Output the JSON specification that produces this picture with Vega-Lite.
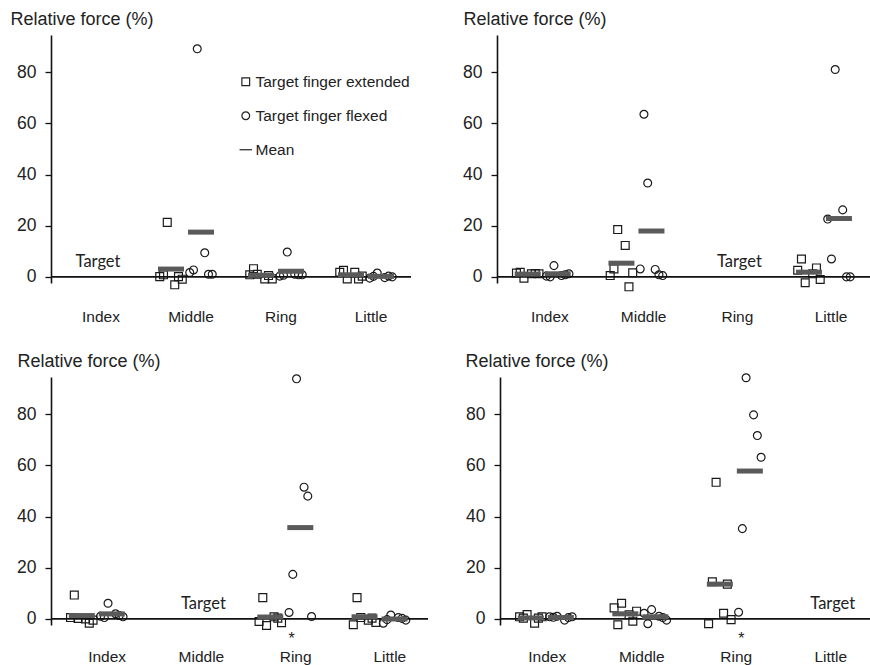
{
  "$schema": "https://vega.github.io/schema/vega-lite/v6.json",
  "padding": {"left": 10, "top": 10, "right": 0, "bottom": 0},
  "background": "white",
  "datasets": {
    "pts": [
      {"p":"A","f":"Middle","c":"ext","s":"e1","v":0.1},{"p":"A","f":"Middle","c":"ext","s":"e2","v":0.8},{"p":"A","f":"Middle","c":"ext","s":"e3","v":21.3},{"p":"A","f":"Middle","c":"ext","s":"e4","v":-3.1},{"p":"A","f":"Middle","c":"ext","s":"e5","v":0.1},{"p":"A","f":"Middle","c":"ext","s":"e6","v":-0.9},
      {"p":"A","f":"Middle","c":"flx","s":"f1","v":1.7},{"p":"A","f":"Middle","c":"flx","s":"f2","v":2.7},{"p":"A","f":"Middle","c":"flx","s":"f3","v":89.2},{"p":"A","f":"Middle","c":"flx","s":"f4","v":9.4},{"p":"A","f":"Middle","c":"flx","s":"f5","v":1.0},{"p":"A","f":"Middle","c":"flx","s":"f6","v":1.0},
      {"p":"A","f":"Ring","c":"ext","s":"e1","v":0.8},{"p":"A","f":"Ring","c":"ext","s":"e2","v":3.2},{"p":"A","f":"Ring","c":"ext","s":"e3","v":1.0},{"p":"A","f":"Ring","c":"ext","s":"e4","v":-0.8},{"p":"A","f":"Ring","c":"ext","s":"e5","v":0.5},{"p":"A","f":"Ring","c":"ext","s":"e6","v":-0.8},
      {"p":"A","f":"Ring","c":"flx","s":"f1","v":0.3},{"p":"A","f":"Ring","c":"flx","s":"f2","v":0.6},{"p":"A","f":"Ring","c":"flx","s":"f3","v":9.7},{"p":"A","f":"Ring","c":"flx","s":"f4","v":1.0},{"p":"A","f":"Ring","c":"flx","s":"f5","v":0.8},{"p":"A","f":"Ring","c":"flx","s":"f6","v":0.8},
      {"p":"A","f":"Little","c":"ext","s":"e1","v":1.8},{"p":"A","f":"Little","c":"ext","s":"e2","v":2.6},{"p":"A","f":"Little","c":"ext","s":"e3","v":-0.8},{"p":"A","f":"Little","c":"ext","s":"e4","v":1.8},{"p":"A","f":"Little","c":"ext","s":"e5","v":-0.8},{"p":"A","f":"Little","c":"ext","s":"e6","v":0.3},
      {"p":"A","f":"Little","c":"flx","s":"f1","v":-0.5},{"p":"A","f":"Little","c":"flx","s":"f2","v":0.2},{"p":"A","f":"Little","c":"flx","s":"f3","v":1.5},{"p":"A","f":"Little","c":"flx","s":"f4","v":-0.3},{"p":"A","f":"Little","c":"flx","s":"f5","v":0.3},{"p":"A","f":"Little","c":"flx","s":"f6","v":0.0},

      {"p":"B","f":"Index","c":"ext","s":"e1","v":1.5},{"p":"B","f":"Index","c":"ext","s":"e2","v":1.8},{"p":"B","f":"Index","c":"ext","s":"e3","v":-0.5},{"p":"B","f":"Index","c":"ext","s":"e4","v":1.2},{"p":"B","f":"Index","c":"ext","s":"e5","v":1.3},{"p":"B","f":"Index","c":"ext","s":"e6","v":1.2},
      {"p":"B","f":"Index","c":"flx","s":"f1","v":0.3},{"p":"B","f":"Index","c":"flx","s":"f2","v":0.0},{"p":"B","f":"Index","c":"flx","s":"f3","v":4.4},{"p":"B","f":"Index","c":"flx","s":"f4","v":0.5},{"p":"B","f":"Index","c":"flx","s":"f5","v":0.8},{"p":"B","f":"Index","c":"flx","s":"f6","v":1.2},
      {"p":"B","f":"Middle","c":"ext","s":"e1","v":0.5},{"p":"B","f":"Middle","c":"ext","s":"e2","v":3.1},{"p":"B","f":"Middle","c":"ext","s":"e3","v":18.5},{"p":"B","f":"Middle","c":"ext","s":"e4","v":12.3},{"p":"B","f":"Middle","c":"ext","s":"e5","v":-3.9},{"p":"B","f":"Middle","c":"ext","s":"e6","v":1.6},
      {"p":"B","f":"Middle","c":"flx","s":"f1","v":3.1},{"p":"B","f":"Middle","c":"flx","s":"f2","v":63.6},{"p":"B","f":"Middle","c":"flx","s":"f3","v":36.7},{"p":"B","f":"Middle","c":"flx","s":"f4","v":2.9},{"p":"B","f":"Middle","c":"flx","s":"f5","v":0.8},{"p":"B","f":"Middle","c":"flx","s":"f6","v":0.5},
      {"p":"B","f":"Little","c":"ext","s":"e1","v":2.6},{"p":"B","f":"Little","c":"ext","s":"e2","v":7.0},{"p":"B","f":"Little","c":"ext","s":"e3","v":-2.3},{"p":"B","f":"Little","c":"ext","s":"e4","v":1.2},{"p":"B","f":"Little","c":"ext","s":"e5","v":3.5},{"p":"B","f":"Little","c":"ext","s":"e6","v":-1.0},
      {"p":"B","f":"Little","c":"flx","s":"f1","v":22.6},{"p":"B","f":"Little","c":"flx","s":"f2","v":7.0},{"p":"B","f":"Little","c":"flx","s":"f3","v":81.1},{"p":"B","f":"Little","c":"flx","s":"f4","v":26.2},{"p":"B","f":"Little","c":"flx","s":"f5","v":0.0},{"p":"B","f":"Little","c":"flx","s":"f6","v":0.0},

      {"p":"C","f":"Index","c":"ext","s":"e1","v":0.5},{"p":"C","f":"Index","c":"ext","s":"e2","v":9.3},{"p":"C","f":"Index","c":"ext","s":"e3","v":0.2},{"p":"C","f":"Index","c":"ext","s":"e4","v":0.0},{"p":"C","f":"Index","c":"ext","s":"e5","v":-1.7},{"p":"C","f":"Index","c":"ext","s":"e6","v":-0.5},
      {"p":"C","f":"Index","c":"flx","s":"f1","v":1.0},{"p":"C","f":"Index","c":"flx","s":"f2","v":0.5},{"p":"C","f":"Index","c":"flx","s":"f3","v":6.1},{"p":"C","f":"Index","c":"flx","s":"f4","v":2.0},{"p":"C","f":"Index","c":"flx","s":"f5","v":1.3},{"p":"C","f":"Index","c":"flx","s":"f6","v":0.8},
      {"p":"C","f":"Ring","c":"ext","s":"e1","v":-1.0},{"p":"C","f":"Ring","c":"ext","s":"e2","v":8.3},{"p":"C","f":"Ring","c":"ext","s":"e3","v":-2.6},{"p":"C","f":"Ring","c":"ext","s":"e4","v":0.8},{"p":"C","f":"Ring","c":"ext","s":"e5","v":0.3},{"p":"C","f":"Ring","c":"ext","s":"e6","v":-1.5},
      {"p":"C","f":"Ring","c":"flx","s":"f1","v":2.5},{"p":"C","f":"Ring","c":"flx","s":"f2","v":17.4},{"p":"C","f":"Ring","c":"flx","s":"f3","v":93.9},{"p":"C","f":"Ring","c":"flx","s":"f4","v":51.5},{"p":"C","f":"Ring","c":"flx","s":"f5","v":48.0},{"p":"C","f":"Ring","c":"flx","s":"f6","v":0.9},
      {"p":"C","f":"Little","c":"ext","s":"e1","v":-2.3},{"p":"C","f":"Little","c":"ext","s":"e2","v":8.3},{"p":"C","f":"Little","c":"ext","s":"e3","v":0.5},{"p":"C","f":"Little","c":"ext","s":"e4","v":-0.5},{"p":"C","f":"Little","c":"ext","s":"e5","v":0.3},{"p":"C","f":"Little","c":"ext","s":"e6","v":-1.4},
      {"p":"C","f":"Little","c":"flx","s":"f1","v":-1.7},{"p":"C","f":"Little","c":"flx","s":"f2","v":-0.3},{"p":"C","f":"Little","c":"flx","s":"f3","v":1.5},{"p":"C","f":"Little","c":"flx","s":"f4","v":0.5},{"p":"C","f":"Little","c":"flx","s":"f5","v":0.2},{"p":"C","f":"Little","c":"flx","s":"f6","v":-0.5},

      {"p":"D","f":"Index","c":"ext","s":"e1","v":0.8},{"p":"D","f":"Index","c":"ext","s":"e2","v":0.3},{"p":"D","f":"Index","c":"ext","s":"e3","v":1.7},{"p":"D","f":"Index","c":"ext","s":"e4","v":-1.7},{"p":"D","f":"Index","c":"ext","s":"e5","v":0.3},{"p":"D","f":"Index","c":"ext","s":"e6","v":0.8},
      {"p":"D","f":"Index","c":"flx","s":"f1","v":0.8},{"p":"D","f":"Index","c":"flx","s":"f2","v":0.6},{"p":"D","f":"Index","c":"flx","s":"f3","v":1.0},{"p":"D","f":"Index","c":"flx","s":"f4","v":-0.5},{"p":"D","f":"Index","c":"flx","s":"f5","v":0.5},{"p":"D","f":"Index","c":"flx","s":"f6","v":0.8},
      {"p":"D","f":"Middle","c":"ext","s":"e1","v":4.3},{"p":"D","f":"Middle","c":"ext","s":"e2","v":-2.3},{"p":"D","f":"Middle","c":"ext","s":"e3","v":6.1},{"p":"D","f":"Middle","c":"ext","s":"e4","v":1.6},{"p":"D","f":"Middle","c":"ext","s":"e5","v":-0.9},{"p":"D","f":"Middle","c":"ext","s":"e6","v":3.0},
      {"p":"D","f":"Middle","c":"flx","s":"f1","v":2.2},{"p":"D","f":"Middle","c":"flx","s":"f2","v":-1.9},{"p":"D","f":"Middle","c":"flx","s":"f3","v":3.6},{"p":"D","f":"Middle","c":"flx","s":"f4","v":1.0},{"p":"D","f":"Middle","c":"flx","s":"f5","v":0.5},{"p":"D","f":"Middle","c":"flx","s":"f6","v":-0.5},
      {"p":"D","f":"Ring","c":"ext","s":"e1","v":-1.9},{"p":"D","f":"Ring","c":"ext","s":"e2","v":14.5},{"p":"D","f":"Ring","c":"ext","s":"e3","v":53.4},{"p":"D","f":"Ring","c":"ext","s":"e4","v":2.2},{"p":"D","f":"Ring","c":"ext","s":"e5","v":13.6},{"p":"D","f":"Ring","c":"ext","s":"e6","v":-0.3},
      {"p":"D","f":"Ring","c":"flx","s":"f1","v":2.6},{"p":"D","f":"Ring","c":"flx","s":"f2","v":35.3},{"p":"D","f":"Ring","c":"flx","s":"f3","v":94.3},{"p":"D","f":"Ring","c":"flx","s":"f4","v":79.8},{"p":"D","f":"Ring","c":"flx","s":"f5","v":71.7},{"p":"D","f":"Ring","c":"flx","s":"f6","v":63.2}
    ],
    "tg": [{"p":"A","f":"Index"},{"p":"B","f":"Ring"},{"p":"C","f":"Middle"},{"p":"D","f":"Little"}],
    "sig": [{"p":"C","f":"Ring"},{"p":"D","f":"Ring"}]
  },
  "config": {
    "view": {"stroke": null},
    "axis": {"labelFont": "Liberation Sans", "titleFont": "Liberation Sans", "labelColor": "#222", "titleColor": "#222", "grid": false},
    "axisX": {"domain": false, "ticks": false, "labelFontSize": 15.5, "labelAngle": 0, "labelPadding": 26},
    "axisY": {"domainColor": "#111", "domainWidth": 1.6, "tickColor": "#111", "tickWidth": 1.3, "tickSize": 6, "labelFontSize": 17.5, "labelPadding": 9, "titleAngle": 0, "titleAlign": "left", "titleBaseline": "alphabetic", "titleY": -11, "titleFontSize": 18, "titleFontWeight": "normal"},
    "point": {"filled": false, "size": 62, "strokeWidth": 1.2, "color": "#1a1a1a", "opacity": 1},
    "tick": {"thickness": 5, "size": 26, "color": "#5a5a5a", "opacity": 1}
  },
  "vconcat": [
    {
      "hconcat": [
        {
          "width": 360, "height": 248,
          "layer": [
            {
              "data": {"name": "pts"},
              "transform": [{"filter": "datum.p === 'A'"}],
              "mark": {"type": "point"},
              "encoding": {
                "x": {"field": "f", "type": "nominal", "scale": {"domain": ["Index","Middle","Ring","Little"], "paddingInner": 0.375, "paddingOuter": 0.1875}, "title": null, "axis": {"labelOffset": 5}},
                "xOffset": {"field": "s", "type": "nominal", "scale": {"domain": ["e1","e2","e3","ext","e4","e5","e6","gap","f1","f2","f3","flx","f4","f5","f6"], "paddingInner": 0, "paddingOuter": 0}},
                "y": {"field": "v", "type": "quantitative", "scale": {"domain": [-2.4, 94.6], "nice": false, "zero": false}, "title": "Relative force (%)", "axis": {"values": [0,20,40,60,80], "titleX": -41}},
                "shape": {"field": "c", "type": "nominal", "scale": {"domain": ["ext","flx","mean"], "range": ["square","circle","M-1.6,0L1.6,0"]},
                  "legend": {"orient": "none", "legendX": 187, "legendY": 39, "title": null, "padding": 0, "labelFontSize": 15.5, "labelColor": "#222", "labelFont": "Liberation Sans", "symbolSize": 60, "symbolStrokeWidth": 1.2, "symbolStrokeColor": "#222", "symbolFillColor": "transparent", "rowPadding": 17, "labelOffset": 2,
                    "labelExpr": "datum.label == 'ext' ? 'Target finger extended' : datum.label == 'flx' ? 'Target finger flexed' : 'Mean'"}}
              }
            },
            {"data": {"values": [{}]}, "mark": {"type": "rule", "color": "#111", "strokeWidth": 1.6}, "encoding": {"y": {"datum": 0, "scale": {"domain": [-2.4, 94.6], "nice": false, "zero": false}}}},
            {
              "data": {"name": "pts"},
              "transform": [{"filter": "datum.p === 'A'"}, {"aggregate": [{"op": "mean", "field": "v", "as": "m"}], "groupby": ["f","c"]}],
              "mark": {"type": "tick"},
              "encoding": {
                "x": {"field": "f", "type": "nominal", "title": null},
                "xOffset": {"field": "c", "type": "nominal"},
                "y": {"field": "m", "type": "quantitative", "title": "Relative force (%)"}
              }
            },
            {
              "data": {"name": "tg"},
              "transform": [{"filter": "datum.p === 'A'"}],
              "mark": {"type": "text", "font": "Lato", "fontSize": 16.5, "baseline": "alphabetic", "dy": -10, "dx": 2, "color": "#222"},
              "encoding": {"x": {"field": "f", "type": "nominal", "title": null}, "y": {"datum": 0}, "text": {"value": "Target"}}
            }
          ]
        },
        {
          "width": 375, "height": 248,
          "layer": [
            {
              "data": {"name": "pts"},
              "transform": [{"filter": "datum.p === 'B'"}],
              "mark": {"type": "point"},
              "encoding": {
                "x": {"field": "f", "type": "nominal", "scale": {"domain": ["Index","Middle","Ring","Little"], "paddingInner": 0.375, "paddingOuter": 0.1875}, "title": null, "axis": {"labelOffset": 6}},
                "xOffset": {"field": "s", "type": "nominal", "scale": {"domain": ["e1","e2","e3","ext","e4","e5","e6","gap","f1","f2","f3","flx","f4","f5","f6"], "paddingInner": 0, "paddingOuter": 0}},
                "y": {"field": "v", "type": "quantitative", "scale": {"domain": [-2.4, 94.6], "nice": false, "zero": false}, "title": "Relative force (%)", "axis": {"values": [0,20,40,60,80], "titleX": -34}},
                "shape": {"field": "c", "type": "nominal", "scale": {"domain": ["ext","flx","mean"], "range": ["square","circle","M-1.6,0L1.6,0"]}, "legend": null}
              }
            },
            {"data": {"values": [{}]}, "mark": {"type": "rule", "color": "#111", "strokeWidth": 1.6}, "encoding": {"y": {"datum": 0, "scale": {"domain": [-2.4, 94.6], "nice": false, "zero": false}}}},
            {
              "data": {"name": "pts"},
              "transform": [{"filter": "datum.p === 'B'"}, {"aggregate": [{"op": "mean", "field": "v", "as": "m"}], "groupby": ["f","c"]}],
              "mark": {"type": "tick"},
              "encoding": {
                "x": {"field": "f", "type": "nominal", "title": null},
                "xOffset": {"field": "c", "type": "nominal"},
                "y": {"field": "m", "type": "quantitative", "title": "Relative force (%)"}
              }
            },
            {
              "data": {"name": "tg"},
              "transform": [{"filter": "datum.p === 'B'"}],
              "mark": {"type": "text", "font": "Lato", "fontSize": 16.5, "baseline": "alphabetic", "dy": -10, "dx": 8, "color": "#222"},
              "encoding": {"x": {"field": "f", "type": "nominal", "title": null}, "y": {"datum": 0}, "text": {"value": "Target"}}
            }
          ]
        }
      ],
      "spacing": 50
    },
    {
      "hconcat": [
        {
          "width": 377, "height": 248,
          "layer": [
            {
              "data": {"name": "pts"},
              "transform": [{"filter": "datum.p === 'C'"}],
              "mark": {"type": "point"},
              "encoding": {
                "x": {"field": "f", "type": "nominal", "scale": {"domain": ["Index","Middle","Ring","Little"], "paddingInner": 0.375, "paddingOuter": 0.1875}, "title": null, "axis": {"labelOffset": 9, "labelPadding": 24}},
                "xOffset": {"field": "s", "type": "nominal", "scale": {"domain": ["e1","e2","e3","ext","e4","e5","e6","gap","f1","f2","f3","flx","f4","f5","f6"], "paddingInner": 0, "paddingOuter": 0}},
                "y": {"field": "v", "type": "quantitative", "scale": {"domain": [-2.4, 94.6], "nice": false, "zero": false}, "title": "Relative force (%)", "axis": {"values": [0,20,40,60,80], "titleX": -34}},
                "shape": {"field": "c", "type": "nominal", "scale": {"domain": ["ext","flx","mean"], "range": ["square","circle","M-1.6,0L1.6,0"]}, "legend": null}
              }
            },
            {"data": {"values": [{}]}, "mark": {"type": "rule", "color": "#111", "strokeWidth": 1.6}, "encoding": {"y": {"datum": 0, "scale": {"domain": [-2.4, 94.6], "nice": false, "zero": false}}}},
            {
              "data": {"name": "pts"},
              "transform": [{"filter": "datum.p === 'C'"}, {"aggregate": [{"op": "mean", "field": "v", "as": "m"}], "groupby": ["f","c"]}],
              "mark": {"type": "tick"},
              "encoding": {
                "x": {"field": "f", "type": "nominal", "title": null},
                "xOffset": {"field": "c", "type": "nominal"},
                "y": {"field": "m", "type": "quantitative", "title": "Relative force (%)"}
              }
            },
            {
              "data": {"name": "tg"},
              "transform": [{"filter": "datum.p === 'C'"}],
              "mark": {"type": "text", "font": "Lato", "fontSize": 16.5, "baseline": "alphabetic", "dy": -10, "dx": 11, "color": "#222"},
              "encoding": {"x": {"field": "f", "type": "nominal", "title": null}, "y": {"datum": 0}, "text": {"value": "Target"}}
            },
            {
              "data": {"name": "sig"},
              "transform": [{"filter": "datum.p === 'C'"}],
              "mark": {"type": "text", "font": "Liberation Sans", "fontSize": 16, "baseline": "alphabetic", "dy": 25, "dx": 5, "color": "#222"},
              "encoding": {"x": {"field": "f", "type": "nominal", "title": null}, "y": {"datum": 0}, "text": {"value": "*"}}
            }
          ]
        },
        {
          "width": 378, "height": 248,
          "layer": [
            {
              "data": {"name": "pts"},
              "transform": [{"filter": "datum.p === 'D'"}],
              "mark": {"type": "point"},
              "encoding": {
                "x": {"field": "f", "type": "nominal", "scale": {"domain": ["Index","Middle","Ring","Little"], "paddingInner": 0.375, "paddingOuter": 0.1875}, "title": null, "axis": {"labelOffset": 0, "labelPadding": 24}},
                "xOffset": {"field": "s", "type": "nominal", "scale": {"domain": ["e1","e2","e3","ext","e4","e5","e6","gap","f1","f2","f3","flx","f4","f5","f6"], "paddingInner": 0, "paddingOuter": 0}},
                "y": {"field": "v", "type": "quantitative", "scale": {"domain": [-2.4, 94.6], "nice": false, "zero": false}, "title": "Relative force (%)", "axis": {"values": [0,20,40,60,80], "titleX": -35}},
                "shape": {"field": "c", "type": "nominal", "scale": {"domain": ["ext","flx","mean"], "range": ["square","circle","M-1.6,0L1.6,0"]}, "legend": null}
              }
            },
            {"data": {"values": [{}]}, "mark": {"type": "rule", "color": "#111", "strokeWidth": 1.6}, "encoding": {"y": {"datum": 0, "scale": {"domain": [-2.4, 94.6], "nice": false, "zero": false}}}},
            {
              "data": {"name": "pts"},
              "transform": [{"filter": "datum.p === 'D'"}, {"aggregate": [{"op": "mean", "field": "v", "as": "m"}], "groupby": ["f","c"]}],
              "mark": {"type": "tick"},
              "encoding": {
                "x": {"field": "f", "type": "nominal", "title": null},
                "xOffset": {"field": "c", "type": "nominal"},
                "y": {"field": "m", "type": "quantitative", "title": "Relative force (%)"}
              }
            },
            {
              "data": {"name": "tg"},
              "transform": [{"filter": "datum.p === 'D'"}],
              "mark": {"type": "text", "font": "Lato", "fontSize": 16.5, "baseline": "alphabetic", "dy": -10, "dx": 2, "color": "#222"},
              "encoding": {"x": {"field": "f", "type": "nominal", "title": null}, "y": {"datum": 0}, "text": {"value": "Target"}}
            },
            {
              "data": {"name": "sig"},
              "transform": [{"filter": "datum.p === 'D'"}],
              "mark": {"type": "text", "font": "Liberation Sans", "fontSize": 16, "baseline": "alphabetic", "dy": 25, "dx": 5, "color": "#222"},
              "encoding": {"x": {"field": "f", "type": "nominal", "title": null}, "y": {"datum": 0}, "text": {"value": "*"}}
            }
          ]
        }
      ],
      "spacing": 36
    }
  ],
  "spacing": 27
}
